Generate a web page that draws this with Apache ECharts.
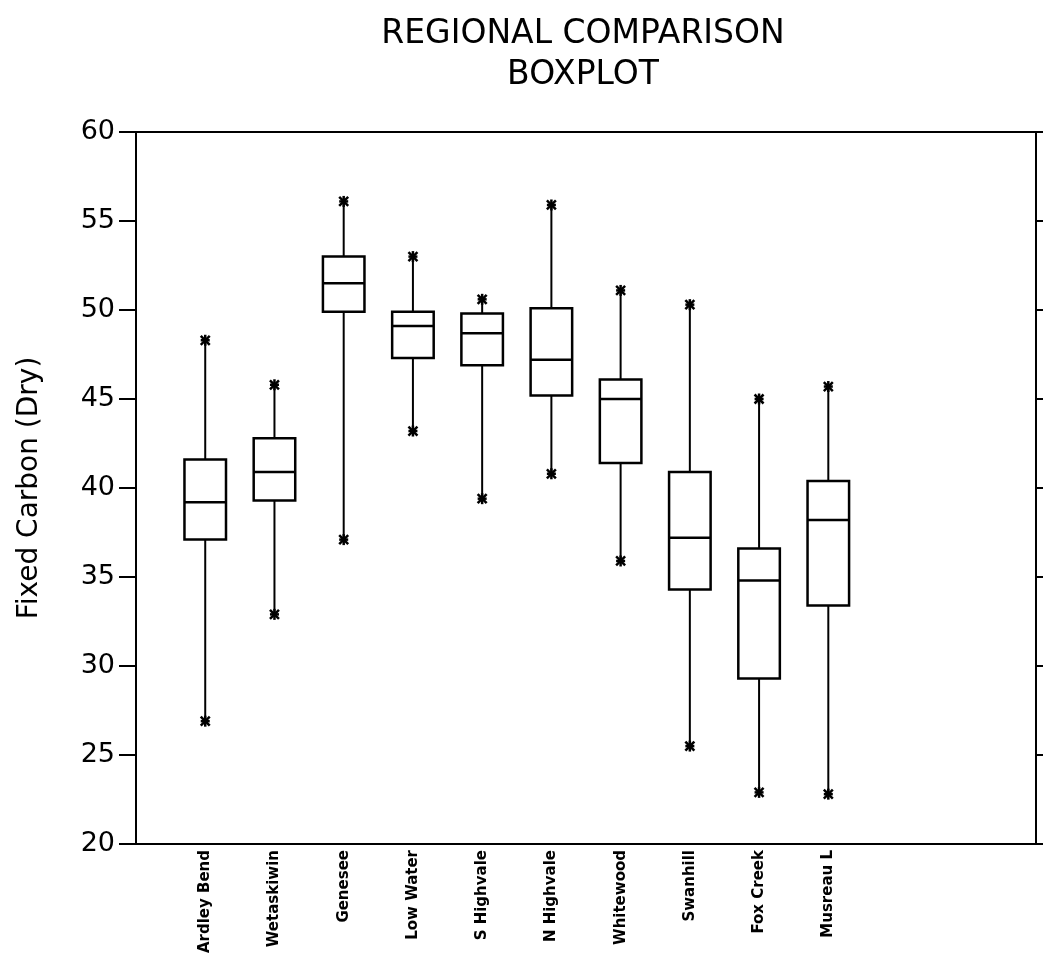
<!DOCTYPE html>
<html>
<head>
<meta charset="utf-8">
<script src="https://cdn.jsdelivr.net/npm/echarts@6/dist/echarts.min.js"></script>
<style>html,body{margin:0;padding:0;background:#fff;}#chart{width:1043px;height:969px;}</style>
</head>
<body>
<div id="chart"></div>
<script>
// Data
var categories = ['Ardley Bend', 'Wetaskiwin', 'Genesee', 'Low Water', 'S Highvale',
                  'N Highvale', 'Whitewood', 'Swanhill', 'Fox Creek', 'Musreau L'];
var lowWhisker  = [26.9, 32.9, 37.1, 43.2, 39.4, 40.8, 35.9, 25.5, 22.9, 22.8];
var q1Values    = [37.1, 39.3, 49.9, 47.3, 46.9, 45.2, 41.4, 34.3, 29.3, 33.4];
var medianVals  = [39.2, 40.9, 51.5, 49.1, 48.7, 47.2, 45.0, 37.2, 34.8, 38.2];
var q3Values    = [41.6, 42.8, 53.0, 49.9, 49.8, 50.1, 46.1, 40.9, 36.6, 40.4];
var highWhisker = [48.3, 45.8, 56.1, 53.0, 50.6, 55.9, 51.1, 50.3, 45.0, 45.7];
var yTicks = [20, 25, 30, 35, 40, 45, 50, 55, 60];

var boxData = categories.map(function (c, i) {
  return [i + 1, lowWhisker[i], q1Values[i], medianVals[i], q3Values[i], highWhisker[i]];
});

var FONT = 'DejaVu Sans';
var chart = echarts.init(document.getElementById('chart'));

function star(p) {
  var s = 4.5, st = {stroke: '#000', lineWidth: 2.5};
  return [
    {type: 'line', shape: {x1: p[0] - s, y1: p[1] - s, x2: p[0] + s, y2: p[1] + s}, style: st},
    {type: 'line', shape: {x1: p[0] - s, y1: p[1] + s, x2: p[0] + s, y2: p[1] - s}, style: st},
    {type: 'line', shape: {x1: p[0], y1: p[1] - s - 1, x2: p[0], y2: p[1] + s + 1}, style: st},
    {type: 'line', shape: {x1: p[0] - s, y1: p[1], x2: p[0] + s, y2: p[1]}, style: st}
  ];
}

function renderBox(params, api) {
  var x = api.value(0);
  var lo = api.coord([x, api.value(1)]);
  var q1 = api.coord([x, api.value(2)]);
  var md = api.coord([x, api.value(3)]);
  var q3 = api.coord([x, api.value(4)]);
  var hi = api.coord([x, api.value(5)]);
  var hw = api.size([0.6, 0])[0] / 2;
  var cx = md[0];
  var line = {stroke: '#000', lineWidth: 2};
  var children = [
    {type: 'line', shape: {x1: cx, y1: q3[1], x2: cx, y2: hi[1]}, style: line},
    {type: 'line', shape: {x1: cx, y1: q1[1], x2: cx, y2: lo[1]}, style: line},
    {type: 'rect', shape: {x: cx - hw, y: q3[1], width: hw * 2, height: q1[1] - q3[1]},
     style: {fill: '#fff', stroke: '#000', lineWidth: 2.5}},
    {type: 'line', shape: {x1: cx - hw, y1: md[1], x2: cx + hw, y2: md[1]}, style: {stroke: '#000', lineWidth: 2.5}}
  ];
  children = children.concat(star(hi), star(lo));
  return {type: 'group', children: children};
}

var option = {
  animation: false,
  backgroundColor: '#fff',
  title: [
    {text: 'REGIONAL COMPARISON', left: 583, top: 18, textAlign: 'center', padding: 0,
     textStyle: {fontFamily: FONT, fontSize: 33, fontWeight: 'normal', color: '#000'}},
    {text: 'BOXPLOT', left: 583, top: 59, textAlign: 'center', padding: 0,
     textStyle: {fontFamily: FONT, fontSize: 33, fontWeight: 'normal', color: '#000'}}
  ],
  grid: {left: 136, right: 7, top: 132, bottom: 125, show: true, borderColor: '#000', borderWidth: 2, backgroundColor: 'transparent'},
  xAxis: {
    type: 'value', min: 0, max: 13, interval: 1,
    axisLine: {show: true, lineStyle: {color: '#000', width: 2}},
    axisTick: {show: false},
    splitLine: {show: false},
    axisLabel: {
      rotate: 90, margin: 6, fontFamily: FONT, fontSize: 15, fontWeight: 'bold', color: '#000',
      formatter: function (v) { return categories[v - 1] || ''; }
    }
  },
  yAxis: [
    {
      type: 'value', min: yTicks[0], max: yTicks[yTicks.length - 1], interval: 5,
      name: 'Fixed Carbon (Dry)', nameLocation: 'middle', nameGap: 92,
      nameTextStyle: {fontFamily: FONT, fontSize: 28, color: '#000'},
      axisLine: {show: true, lineStyle: {color: '#000', width: 2}},
      axisTick: {show: true, length: 17, lineStyle: {color: '#000', width: 2}},
      splitLine: {show: false},
      axisLabel: {margin: 21, fontFamily: FONT, fontSize: 27, color: '#000'}
    },
    {
      type: 'value', position: 'right', min: yTicks[0], max: yTicks[yTicks.length - 1], interval: 5,
      axisLine: {show: true, lineStyle: {color: '#000', width: 2}},
      axisTick: {show: true, length: 7, lineStyle: {color: '#000', width: 2}},
      splitLine: {show: false},
      axisLabel: {show: false}
    }
  ],
  series: [{
    type: 'custom',
    renderItem: renderBox,
    data: boxData,
    encode: {x: 0, y: [1, 2, 3, 4, 5]},
    clip: false
  }]
};
chart.setOption(option);
</script>
</body>
</html>
